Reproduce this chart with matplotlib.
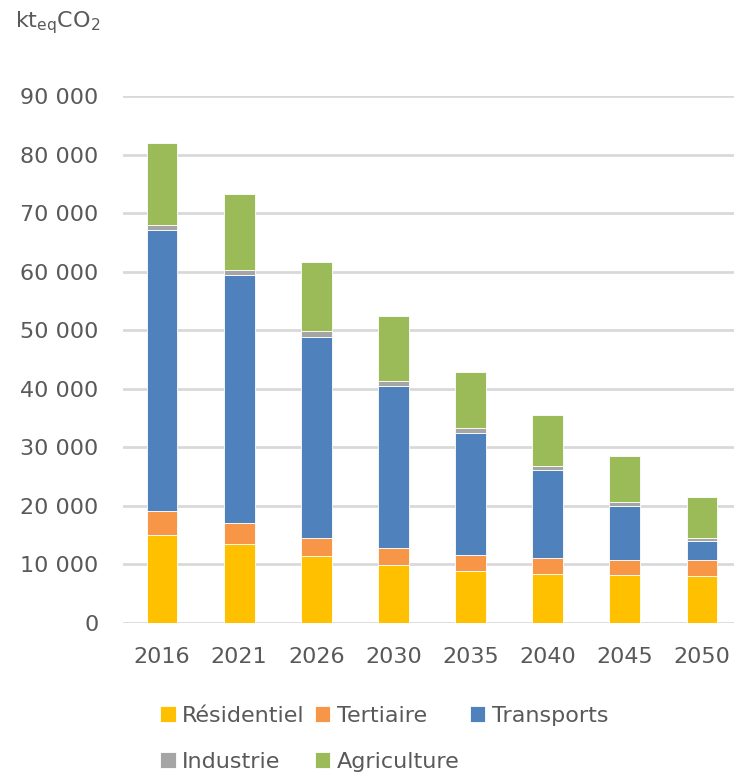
import matplotlib
matplotlib.use("Agg")
import matplotlib.pyplot as plt
import numpy as np

# -----------------------------------------------------------------------------
years = ["2016", "2021", "2026", "2030", "2035", "2040", "2045", "2050"]
residentiel = [15100, 13500, 11400, 9900, 8800, 8350, 8200, 8100]
tertiaire = [4000, 3600, 3200, 2850, 2750, 2700, 2550, 2600]
transports = [48000, 42300, 34300, 27800, 20950, 15100, 9200, 3300]
industrie = [900, 900, 900, 850, 750, 650, 650, 550]
agriculture = [14000, 13000, 11800, 11000, 9550, 8750, 7900, 6950]

series = [
    ("Résidentiel", residentiel, "#ffc000"),
    ("Tertiaire", tertiaire, "#f79646"),
    ("Transports", transports, "#4f81bd"),
    ("Industrie", industrie, "#a5a5a5"),
    ("Agriculture", agriculture, "#9bbb59"),
]
yticks = list(range(0, 90001, 10000))
# -----------------------------------------------------------------------------

text_color = "#595959"
plt.rcParams["font.family"] = ["DejaVu Sans"]
plt.rcParams["mathtext.default"] = "regular"

fig = plt.figure(figsize=(7.34, 7.74), dpi=100)
ax = fig.add_axes([123.5 / 734, 151 / 774, 617 / 734, 527 / 774])

x = np.arange(len(years))
bottom = np.zeros(len(years))
handles = {}
for name, vals, color in series:
    bars = ax.bar(x, vals, width=0.4, bottom=bottom, color=color,
                  edgecolor="white", linewidth=0.6, label=name, zorder=3)
    handles[name] = bars
    bottom += np.array(vals)

ax.set_xlim(-0.5, len(years) - 0.5)
ax.set_ylim(0, 90000)
ax.set_yticks(yticks)
ax.set_yticklabels([f"{v:,}".replace(",", " ") for v in yticks])
ax.set_xticks(x)
ax.set_xticklabels(years)
ax.tick_params(axis="both", length=0, labelsize=16, labelcolor=text_color)
ax.tick_params(axis="y", pad=18)
ax.tick_params(axis="x", pad=17)

ax.grid(axis="y", color="#d9d9d9", linewidth=2, zorder=0)
for s in ax.spines.values():
    s.set_visible(False)

fig.text(15 / 734, 1 - 23 / 774, r"kt$_{eq}$CO$_2$", fontsize=16,
         color=text_color, ha="left", va="center")

order = ["Résidentiel", "Industrie", "Tertiaire", "Agriculture", "Transports"]
leg = fig.legend([handles[n] for n in order], order, ncol=3, frameon=False,
                 loc="upper left", bbox_to_anchor=(160 / 734, 1 - 706 / 774),
                 fontsize=16, handlelength=0.7, handleheight=0.7,
                 handletextpad=0.3, columnspacing=0.45, labelspacing=1.15,
                 borderpad=0, borderaxespad=0)
for t in leg.get_texts():
    t.set_color(text_color)

fig.savefig("out.png", dpi=100)
